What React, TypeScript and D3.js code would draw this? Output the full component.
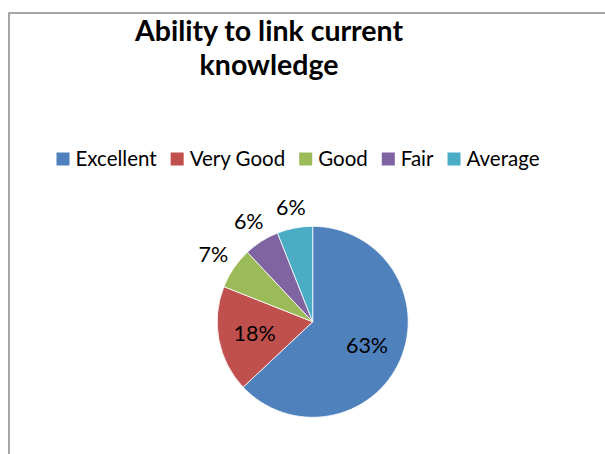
import React, { useEffect, useRef } from "react";
import * as d3 from "d3";

const categories = ["Excellent", "Very Good", "Good", "Fair", "Average"];
const values = [63, 18, 7, 6, 6];
const colors = ["#4F81BD", "#C0504D", "#9BBB59", "#8064A2", "#4BACC6"];
const titleLines = ["Ability to link current", "knowledge"];

const W = 605;
const H = 454;
const FONT = "Lato, 'Open Sans', sans-serif";

export default function App() {
  const ref = useRef<SVGSVGElement>(null);

  useEffect(() => {
    const svg = d3.select(ref.current);
    svg.selectAll("*").remove();

    svg
      .append("rect")
      .attr("x", 9)
      .attr("y", 13)
      .attr("width", 700)
      .attr("height", 600)
      .attr("fill", "white")
      .attr("stroke", "#8a8a8a")
      .attr("stroke-width", 1.5);

    // Title
    const title = svg
      .append("text")
      .attr("text-anchor", "middle")
      .attr("font-family", FONT)
      .attr("font-weight", "bold")
      .attr("font-size", 28.5)
      .attr("fill", "#000");
    titleLines.forEach((t, i) => {
      title
        .append("tspan")
        .attr("x", 269)
        .attr("y", 40.5 + i * 34)
        .text(t);
    });

    // Legend
    const legend = svg.append("g");
    const fs = 20.5;
    const sw = 13;
    const gapSwatchText = 6;
    const gapItems = 14;
    let x = 0;
    const items: { g: any; x: number }[] = [];
    categories.forEach((c, i) => {
      const g = legend.append("g");
      g.append("rect")
        .attr("x", 0)
        .attr("y", -13)
        .attr("width", sw)
        .attr("height", sw)
        .attr("fill", colors[i]);
      const t = g
        .append("text")
        .attr("x", sw + gapSwatchText)
        .attr("y", 0)
        .attr("font-family", FONT)
        .attr("font-size", fs)
        .attr("fill", "#000")
        .text(c);
      const tw = (t.node() as SVGTextElement).getComputedTextLength();
      items.push({ g, x });
      x += sw + gapSwatchText + tw + gapItems;
    });
    const total = x - gapItems;
    const startX = 298 - total / 2;
    items.forEach((it) => it.g.attr("transform", `translate(${startX + it.x},165.5)`));

    // Pie
    const cx = 312.7;
    const cy = 321.8;
    const r = 95.5;
    const pie = d3
      .pie<number>()
      .sort(null)
      .value((d) => d);
    const arcs = pie(values);
    const arc = d3.arc<d3.PieArcDatum<number>>().innerRadius(0).outerRadius(r);
    const pg = svg.append("g").attr("transform", `translate(${cx},${cy})`);
    pg.selectAll("path")
      .data(arcs)
      .enter()
      .append("path")
      .attr("d", arc as any)
      .attr("fill", (_d, i) => colors[i])
      .attr("stroke", "white")
      .attr("stroke-width", 0.8);

    // Labels
    arcs.forEach((a, i) => {
      const mid = (a.startAngle + a.endAngle) / 2;
      const dx = Math.sin(mid);
      const dy = -Math.cos(mid);
      const label = `${values[i]}%`;
      let px: number, py: number;
      if (values[i] >= 10) {
        const rr = r * 0.62;
        px = dx * rr;
        py = dy * rr;
      } else {
        const hw = 12;
        const hh = 10;
        const rr = r + 9 + Math.abs(dx) * hw + Math.abs(dy) * hh;
        px = dx * rr;
        py = dy * rr;
      }
      pg.append("text")
        .attr("x", px)
        .attr("y", py)
        .attr("dy", "0.36em")
        .attr("text-anchor", "middle")
        .attr("font-family", FONT)
        .attr("font-size", 21.5)
        .attr("fill", "#000")
        .text(label);
    });
  }, []);

  return (
    <svg
      ref={ref}
      width={W}
      height={H}
      style={{ position: "absolute", left: 0, top: 0, background: "white" }}
    />
  );
}
